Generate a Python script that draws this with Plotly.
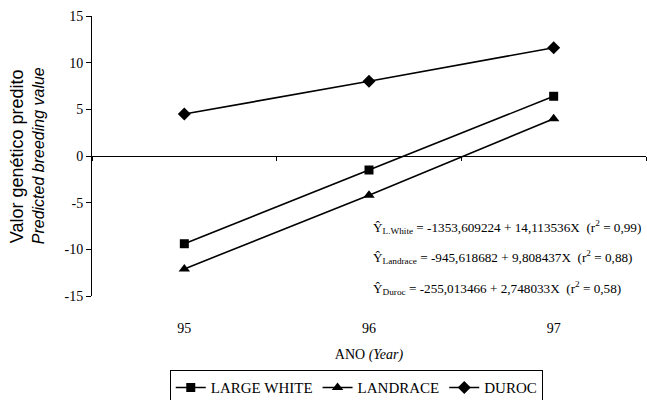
import plotly.graph_objects as go

years = [95, 96, 97]
large_white = [-9.4, -1.5, 6.4]
landrace = [-12.1, -4.2, 4.0]
duroc = [4.5, 8.0, 11.6]
boundaries = [94.5, 95.5, 96.5, 97.5]
y_ticks = [-15, -10, -5, 0, 5, 10, 15]
y_ticktext = ["-15", "-10", "-5", "0", "5", "10", "15"]

eqs = [
    ("Ŷ<sub>L.White</sub> = -1353,609224 + 14,113536X  (r<sup>2</sup> = 0,99)", -7.6),
    ("Ŷ<sub>Landrace</sub> = -945,618682 + 9,808437X  (r<sup>2</sup> = 0,88)", -10.85),
    ("Ŷ<sub>Duroc</sub> = -255,013466 + 2,748033X  (r<sup>2</sup> = 0,58)", -14.1),
]

serif = "Liberation Serif"
sans = "Liberation Sans"

fig = go.Figure()
series = [
    ("LARGE WHITE", large_white, "square", 9),
    ("LANDRACE", landrace, "triangle-up", 10),
    ("DUROC", duroc, "diamond", 10),
]
for name, vals, sym, sz in series:
    fig.add_trace(go.Scatter(
        x=years, y=vals, name=name, mode="lines+markers",
        line=dict(color="black", width=1.6),
        marker=dict(symbol=sym, size=sz, color="black"),
    ))

# invisible trace on the zero axis
fig.add_trace(go.Scatter(x=[95], y=[0], xaxis="x2", mode="markers",
                         marker=dict(opacity=0), showlegend=False, hoverinfo="skip"))

for text, yv in eqs:
    fig.add_annotation(x=96.01, y=yv, xref="x", yref="y", text=text, showarrow=False,
                       xanchor="left", yanchor="middle",
                       font=dict(family=serif, size=13.2, color="black"))

# y-axis title as two rotated lines
fig.add_annotation(x=-0.135, y=0.5, xref="paper", yref="paper", text="Valor genético predito",
                   showarrow=False, textangle=-90, xanchor="center", yanchor="middle",
                   font=dict(family=sans, size=18, color="black"))
fig.add_annotation(x=-0.097, y=0.5, xref="paper", yref="paper", text="<i>Predicted breeding value</i>",
                   showarrow=False, textangle=-90, xanchor="center", yanchor="middle",
                   font=dict(family=sans, size=16, color="black"))

fig.update_layout(
    width=647, height=400,
    margin=dict(l=92, r=1, t=16, b=104, autoexpand=False),
    paper_bgcolor="white", plot_bgcolor="white",
    showlegend=True,
    legend=dict(orientation="h", x=0.477, xanchor="center", y=-0.265, yanchor="top",
                bordercolor="black", borderwidth=1,
                font=dict(family=serif, size=15, color="black"),
                itemwidth=30, tracegroupgap=0),
    xaxis=dict(range=[94.5, 97.5], tickvals=years, ticktext=[str(y) for y in years],
               showline=False, showgrid=False, zeroline=False, ticks="",
               ticklabelstandoff=22,
               tickfont=dict(family=serif, size=14, color="black"),
               title=dict(text="ANO <i>(Year)</i>", font=dict(family=serif, size=14, color="black"),
                          standoff=14)),
    xaxis2=dict(range=[94.5, 97.5], overlaying="x", anchor="free", position=0.5, side="bottom",
                showline=True, linecolor="black", linewidth=1, tickvals=boundaries,
                ticks="outside", ticklen=4, tickcolor="black", showticklabels=False,
                showgrid=False, zeroline=False),
    yaxis=dict(range=[-15, 15], tickvals=y_ticks, ticktext=y_ticktext,
               showline=True, linecolor="black", linewidth=1,
               ticks="outside", ticklen=5, tickcolor="black", showgrid=False, zeroline=False,
               tickfont=dict(family=serif, size=14, color="black")),
)

fig.write_html("out.html")
